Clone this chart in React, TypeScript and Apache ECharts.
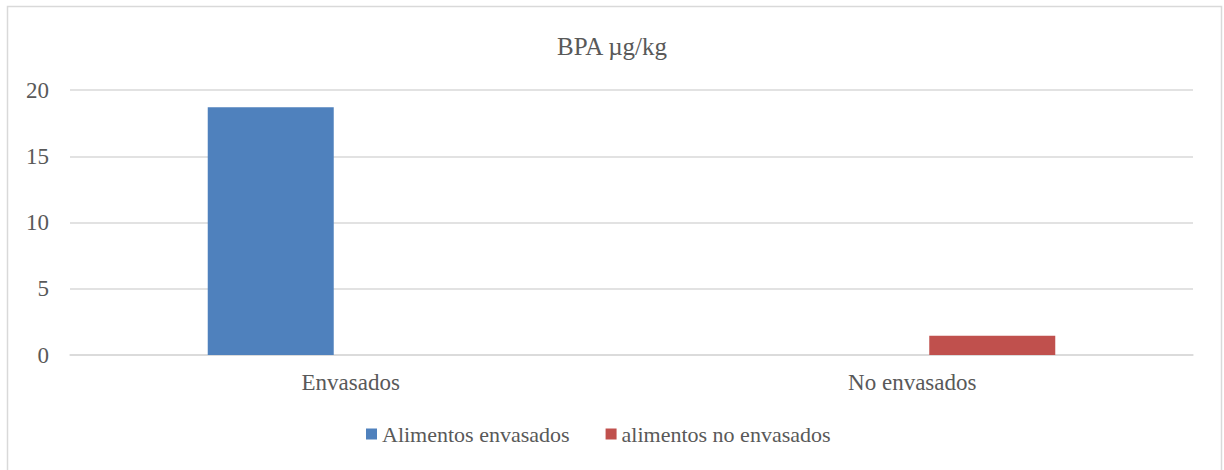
import React, { useEffect, useRef } from "react";
import * as echarts from "echarts";

const categories = ["Envasados", "No envasados"];
const seriesNames = ["Alimentos envasados", "alimentos no envasados"];
const envasadosValues: (number | string)[] = [18.7, "-"];
const noEnvasadosValues: (number | string)[] = ["-", 1.45];
const yTicks = { min: 0, max: 20, interval: 5 };

const FONT = "Liberation Serif";
const TEXT = "#595959";

export default function App() {
  const ref = useRef<HTMLDivElement>(null);

  useEffect(() => {
    if (!ref.current) return;
    const chart = echarts.init(ref.current, undefined, { renderer: "svg" });
    chart.setOption({
      animation: false,
      backgroundColor: "#ffffff",
      textStyle: { fontFamily: FONT, color: TEXT },
      graphic: [
        {
          type: "rect",
          shape: { x: 7.5, y: 6.5, width: 1214, height: 490 },
          style: { fill: "none", stroke: "#d9d9d9", lineWidth: 1.5 },
          silent: true,
        },
      ],
      title: {
        text: "BPA µg/kg",
        left: "center",
        top: 29,
        textStyle: { fontFamily: FONT, color: TEXT, fontSize: 25, fontWeight: "normal" },
      },
      legend: {
        data: seriesNames,
        bottom: 25,
        left: 366,
        padding: 0,
        itemWidth: 11,
        itemHeight: 11,
        itemGap: 36,
        icon: "rect",
        textStyle: { fontFamily: FONT, color: TEXT, fontSize: 22 },
      },
      grid: { left: 70, right: 31, top: 90, bottom: 115, containLabel: false },
      xAxis: {
        type: "category",
        data: categories,
        axisLine: { show: true, lineStyle: { color: "#d9d9d9", width: 1.5 } },
        axisTick: { show: false },
        axisLabel: { fontFamily: FONT, color: TEXT, fontSize: 23, margin: 16 },
      },
      yAxis: {
        type: "value",
        min: yTicks.min,
        max: yTicks.max,
        interval: yTicks.interval,
        axisLine: { show: false },
        axisTick: { show: false },
        splitLine: { lineStyle: { color: "#d9d9d9", width: 1.5 } },
        axisLabel: { fontFamily: FONT, color: TEXT, fontSize: 23, margin: 21 },
      },
      series: [
        {
          name: seriesNames[0],
          type: "bar",
          data: envasadosValues,
          barWidth: 126,
          barGap: "27%",
          itemStyle: { color: "#4f81bd" },
        },
        {
          name: seriesNames[1],
          type: "bar",
          data: noEnvasadosValues,
          barWidth: 126,
          barGap: "27%",
          itemStyle: { color: "#c0504d" },
        },
      ],
    });
    return () => chart.dispose();
  }, []);

  return (
    <div
      ref={ref}
      style={{ position: "absolute", left: 0, top: 0, width: 1224, height: 470 }}
    />
  );
}
